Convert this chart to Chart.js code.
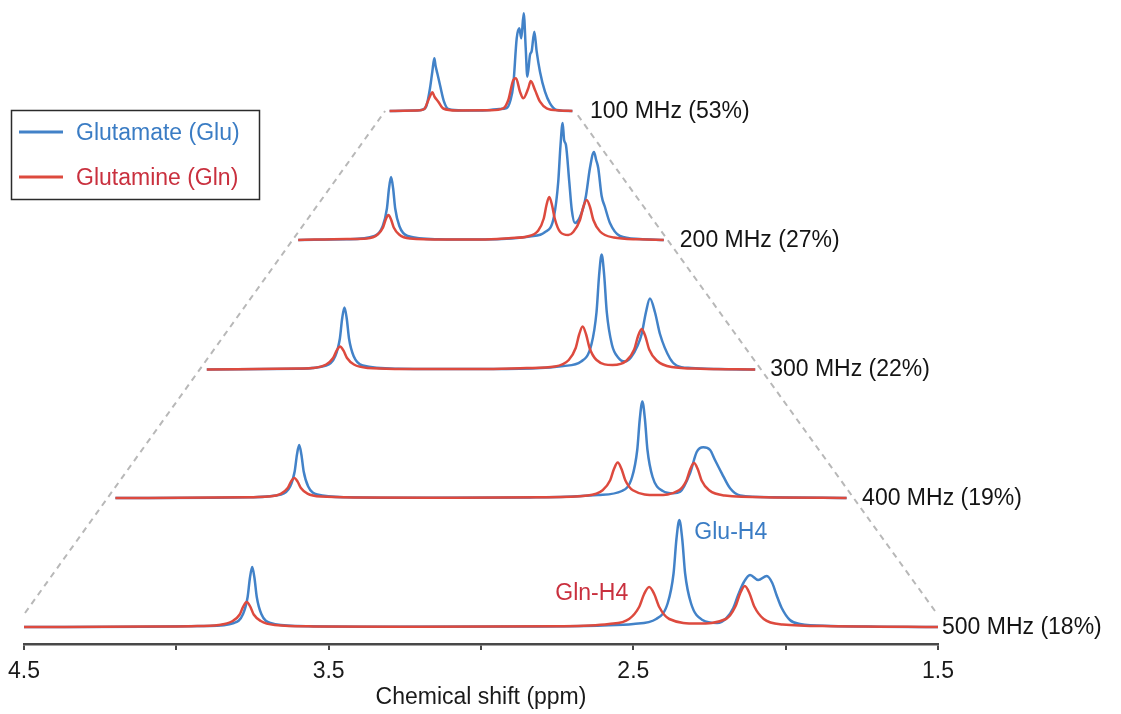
<!DOCTYPE html>
<html>
<head>
<meta charset="utf-8">
<title>Glu / Gln spectra vs field strength</title>
<script src="https://cdn.jsdelivr.net/npm/chart.js@4.4.1/dist/chart.umd.min.js"></script>
<style>
  html, body { margin: 0; padding: 0; background: #fff; }
  canvas { display: block; }
</style>
</head>
<body>
<canvas id="chart" width="1121" height="714"></canvas>
<script>
// field strengths (top trace first) and the Glu/Gln overlap at each
const fields = [100, 200, 300, 400, 500];
const overlap = [53, 27, 22, 19, 18];
const xTickLabels = [4.5, 3.5, 2.5, 1.5];

// spectra as [ppm, intensity]
const glu100 = [[4.5,0],[4.1,0.5],[3.95,1.5],[3.891,6],[3.837,22.7],[3.799,39.3],[3.766,52.7],[3.745,45],[3.717,37.7],[3.673,26],[3.607,9.3],[3.537,2],[3.3,0.5],[2.9,0.8],[2.7,2],[2.578,3],[2.52,10],[2.47,26],[2.414,72.7],[2.371,82.7],[2.339,72.7],[2.299,97.7],[2.266,62.7],[2.24,34.3],[2.196,56],[2.168,60],[2.125,79.3],[2.086,59.3],[2.032,39.3],[1.95,19.3],[1.868,7.7],[1.758,1],[1.5,0]];
const gln100 = [[4.5,0],[4.05,0.5],[3.93,2],[3.875,9.3],[3.835,15],[3.799,18.7],[3.76,14],[3.701,9.3],[3.62,2.5],[3.4,0.5],[2.85,0.8],[2.634,2.7],[2.552,11],[2.47,31],[2.426,32.7],[2.36,19.3],[2.306,12.7],[2.224,22.7],[2.184,30],[2.114,21],[2.032,9.3],[1.922,2.7],[1.7,0.5],[1.5,0]];

const glu200 = [[4.5,0],[4.1,0.8],[3.874,4],[3.806,14],[3.772,31.5],[3.755,51.5],[3.738,63],[3.721,51.5],[3.704,31.5],[3.67,14],[3.602,4],[3.35,0.8],[3.0,0.5],[2.75,1.5],[2.6,3.5],[2.474,8],[2.402,23],[2.366,58.5],[2.348,94],[2.33,117],[2.318,100],[2.303,95],[2.276,58.7],[2.255,30],[2.229,17],[2.175,27],[2.139,44],[2.106,72],[2.073,88],[2.055,80],[2.038,72],[2.01,44],[1.983,33],[1.942,17],[1.86,4],[1.7,1],[1.5,0]];
const gln200 = [[4.5,0],[4.1,1],[3.936,1.5],[3.848,5.5],[3.804,12.5],[3.782,20.5],[3.76,25],[3.738,20.5],[3.716,12.5],[3.672,5.5],[3.584,1.5],[3.3,0.5],[3.0,0.5],[2.75,2],[2.62,3.5],[2.53,9.5],[2.485,21.5],[2.4625,35],[2.44,43],[2.4175,35],[2.395,21.5],[2.35,8],[2.284,5],[2.243,8],[2.188,20],[2.1605,33],[2.133,40],[2.1055,33],[2.078,20],[2.023,8.5],[1.91,2.5],[1.7,0.7],[1.5,0]];

const glu300 = [[4.5,0],[4.0,0.8],[3.847,4],[3.797,13.6],[3.772,31],[3.7595,51],[3.747,62],[3.7345,51],[3.722,31],[3.697,13.6],[3.647,4],[3.45,0.8],[3.0,0.4],[2.7,1.2],[2.55,3.5],[2.452,8],[2.396,25],[2.368,57.5],[2.354,94],[2.34,115],[2.326,94],[2.312,57.5],[2.284,25],[2.25,12],[2.212,8],[2.18,12],[2.143,24],[2.121,35.5],[2.098,57],[2.076,71],[2.048,57],[2.021,35.5],[1.966,11],[1.93,4],[1.85,1.5],[1.7,0.4],[1.5,0]];
const gln300 = [[4.5,0],[4.0,1],[3.923,1.5],[3.847,5],[3.809,11.5],[3.79,18.8],[3.771,23],[3.752,18.8],[3.733,11.5],[3.695,5],[3.619,1.5],[3.45,0.6],[3.0,0.4],[2.75,1.5],[2.596,3],[2.52,9.5],[2.482,21.5],[2.463,35],[2.444,43],[2.425,35],[2.406,21.5],[2.368,9.5],[2.28,4.5],[2.203,9],[2.162,20],[2.1415,33],[2.121,40.5],[2.1005,33],[2.08,20],[2.039,9],[1.957,2.5],[1.8,0.8],[1.5,0]];

const glu400 = [[4.5,0],[4.1,0.3],[3.95,0.8],[3.82,3.5],[3.783,11.5],[3.7645,26.5],[3.755,43.5],[3.746,53],[3.737,43.5],[3.7275,26.5],[3.709,11.5],[3.672,3.5],[3.55,0.8],[3.2,0.3],[2.8,0.6],[2.65,1.2],[2.52,3],[2.422,7],[2.38,21],[2.359,48],[2.3485,79],[2.338,96.5],[2.3275,79],[2.317,48],[2.296,21],[2.254,7],[2.211,4.7],[2.183,6.3],[2.142,25],[2.115,46],[2.088,50.7],[2.06,48],[2.04,38],[2.012,24.7],[1.978,9.7],[1.937,2.5],[1.8,0.8],[1.6,0.2],[1.5,0]];
const gln400 = [[4.5,0],[4.1,0.4],[3.95,0.8],[3.874,1.4],[3.82,4.4],[3.793,10],[3.7795,16.4],[3.766,20],[3.7525,16.4],[3.739,10],[3.712,4.4],[3.658,1.4],[3.5,0.5],[3.1,0.3],[2.75,0.8],[2.563,2.5],[2.501,7.8],[2.47,17.8],[2.4545,29],[2.439,35.5],[2.4235,29],[2.408,17.8],[2.377,7.8],[2.28,3],[2.188,7.7],[2.157,17.5],[2.1415,28.7],[2.126,35],[2.1105,28.7],[2.095,17.5],[2.064,7.7],[2.0,2.5],[1.8,0.6],[1.5,0]];

const glu500 = [[4.5,0],[4.1,0.3],[3.9,1],[3.811,4],[3.781,13],[3.766,30],[3.7585,49],[3.751,60],[3.7435,49],[3.736,30],[3.721,13],[3.691,4],[3.6,1],[3.3,0.3],[2.8,0.6],[2.6,1.5],[2.5,3],[2.425,8],[2.387,24],[2.368,53.5],[2.3585,88],[2.349,107],[2.3395,88],[2.33,53.5],[2.311,24],[2.273,7],[2.225,4],[2.194,9],[2.172,19],[2.156,32],[2.137,45],[2.117,52],[2.09,47],[2.062,51],[2.044,44],[2.03,32],[2.013,19],[1.986,7],[1.953,3],[1.85,1],[1.7,0.3],[1.5,0]];
const gln500 = [[4.5,0],[4.1,0.4],[3.95,0.8],[3.861,2],[3.815,6],[3.792,12.5],[3.7805,20.5],[3.769,25],[3.7575,20.5],[3.746,12.5],[3.723,6],[3.677,2],[3.55,0.6],[3.2,0.3],[2.75,0.8],[2.58,3],[2.514,8],[2.481,20],[2.4645,33],[2.448,40],[2.4315,33],[2.415,20],[2.382,8],[2.29,3.5],[2.196,8],[2.165,20.5],[2.1495,33.5],[2.134,41],[2.1185,33.5],[2.103,20.5],[2.072,8],[2.01,2.5],[1.85,0.8],[1.6,0.2],[1.5,0]];

const glu = { 100: glu100, 200: glu200, 300: glu300, 400: glu400, 500: glu500 };
const gln = { 100: gln100, 200: gln200, 300: gln300, 400: gln400, 500: gln500 };

// layout: chart area in px, baseline row of each trace, gap before its label
const AREA = { left: 24, right: 938, top: 0, bottom: 644 };
const baselines = [111, 240, 369.5, 498, 627];
const labelGap = [17.5, 16, 15, 15.5, 4];

const BLUE = '#4282c8';
const RED = '#dd4a3e';
const BLUE_TEXT = '#3a7cc4';
const RED_TEXT = '#c9303e';
const FONT = '"Liberation Sans", Arial, Helvetica, sans-serif';

Chart.defaults.font.family = FONT;
Chart.defaults.font.size = 23;

const scales = {
  x: {
    type: 'linear',
    position: 'bottom',
    reverse: true,
    min: 1.5,
    max: 4.5,
    border: { display: true, color: '#484848', width: 2.5 },
    grid: { display: true, drawOnChartArea: false, drawTicks: true, tickLength: 6, color: '#484848', lineWidth: 2 },
    ticks: {
      stepSize: 0.5,
      autoSkip: false,
      maxRotation: 0,
      padding: 8,
      color: '#1a1a1a',
      callback: v => xTickLabels.some(t => Math.abs(t - v) < 1e-6) ? v.toFixed(1) : ''
    },
    title: { display: true, text: 'Chemical shift (ppm)', color: '#1a1a1a', padding: { top: 0, bottom: 3 } },
    // fixed axis band so the plot area ends where the traces expect it
    afterFit(scale) { scale.height = 714 - AREA.bottom; }
  }
};

// each trace gets its own hidden axes: lower fields are drawn narrower and higher up
const widest = fields[fields.length - 1];
fields.forEach((f, i) => {
  const s = f / widest;
  scales['x' + f] = { type: 'linear', display: false, reverse: true, min: 3 - 1.5 / s, max: 3 + 1.5 / s };
  scales['y' + f] = { type: 'linear', display: false, min: baselines[i] - AREA.bottom, max: baselines[i] - AREA.top };
});

function trace(points, label, color, f, order) {
  return {
    label: label,
    data: points.map(p => ({ x: p[0], y: p[1] })),
    xAxisID: 'x' + f,
    yAxisID: 'y' + f,
    borderColor: color,
    borderWidth: 2.5,
    pointRadius: 0,
    fill: false,
    cubicInterpolationMode: 'monotone',
    order: order
  };
}

const datasets = [];
fields.forEach(f => {
  datasets.push(trace(gln[f], 'Glutamine (Gln)', RED, f, 1));
  datasets.push(trace(glu[f], 'Glutamate (Glu)', BLUE, f, 2));
});

function peakOf(points, lo, hi) {
  let best = null;
  points.forEach(p => {
    if (p[0] >= lo && p[0] <= hi && (!best || p[1] > best[1])) best = p;
  });
  return best;
}

const overlay = {
  id: 'overlay',
  beforeDatasetsDraw(chart) {
    // dashed outline of the stack
    const ctx = chart.ctx;
    const top = fields[0];
    const xb = chart.scales['x' + widest], yb = chart.scales['y' + widest];
    const xt = chart.scales['x' + top], yt = chart.scales['y' + top];
    ctx.save();
    ctx.strokeStyle = '#b8b8b8';
    ctx.lineWidth = 2;
    ctx.setLineDash([6, 5]);
    [[4.5, [1, -14], [-4.5, 0]], [1.5, [-3, -16], [4.5, 3]]].forEach(([ppm, d0, d1]) => {
      ctx.beginPath();
      ctx.moveTo(xb.getPixelForValue(ppm) + d0[0], yb.getPixelForValue(0) + d0[1]);
      ctx.lineTo(xt.getPixelForValue(ppm) + d1[0], yt.getPixelForValue(0) + d1[1]);
      ctx.stroke();
    });
    ctx.restore();
  },
  afterDraw(chart) {
    const ctx = chart.ctx;
    ctx.save();
    ctx.font = '23px ' + FONT;
    ctx.textBaseline = 'alphabetic';

    // field labels at the right end of each trace
    ctx.fillStyle = '#141414';
    ctx.textAlign = 'left';
    fields.forEach((f, i) => {
      const x = chart.scales['x' + f].getPixelForValue(1.5) + labelGap[i];
      const y = chart.scales['y' + f].getPixelForValue(0) + 6.5;
      ctx.fillText(f + ' MHz (' + overlap[i] + '%)', x, y);
    });

    // H4 peak names on the 500 MHz trace
    const xs = chart.scales['x' + widest], ys = chart.scales['y' + widest];
    const gluH4 = peakOf(glu500, 2.25, 2.45);
    const glnH4 = peakOf(gln500, 2.35, 2.55);
    ctx.fillStyle = BLUE_TEXT;
    ctx.fillText('Glu-H4', xs.getPixelForValue(gluH4[0]) + 15, ys.getPixelForValue(gluH4[1]) + 18.5);
    ctx.fillStyle = RED_TEXT;
    ctx.textAlign = 'right';
    ctx.fillText('Gln-H4', xs.getPixelForValue(glnH4[0]) - 21, ys.getPixelForValue(glnH4[1]) + 12.5);

    // legend box
    ctx.textAlign = 'left';
    ctx.strokeStyle = '#2b2b2b';
    ctx.lineWidth = 1.5;
    ctx.strokeRect(11.5, 110.5, 248, 89);
    const entries = [
      { text: datasets[1].label, line: BLUE, color: BLUE_TEXT, y: 132 },
      { text: datasets[0].label, line: RED, color: RED_TEXT, y: 177 }
    ];
    entries.forEach(e => {
      ctx.strokeStyle = e.line;
      ctx.lineWidth = 3;
      ctx.beginPath();
      ctx.moveTo(19, e.y);
      ctx.lineTo(63, e.y);
      ctx.stroke();
      ctx.fillStyle = e.color;
      ctx.fillText(e.text, 76, e.y + 8);
    });
    ctx.restore();
  }
};

new Chart(document.getElementById('chart'), {
  type: 'line',
  data: { datasets: datasets },
  options: {
    responsive: false,
    animation: false,
    devicePixelRatio: 1,
    layout: { padding: { left: AREA.left, right: 1121 - AREA.right, top: AREA.top, bottom: 0 } },
    plugins: { legend: { display: false }, tooltip: { enabled: false } },
    scales: scales
  },
  plugins: [overlay]
});
</script>
</body>
</html>
